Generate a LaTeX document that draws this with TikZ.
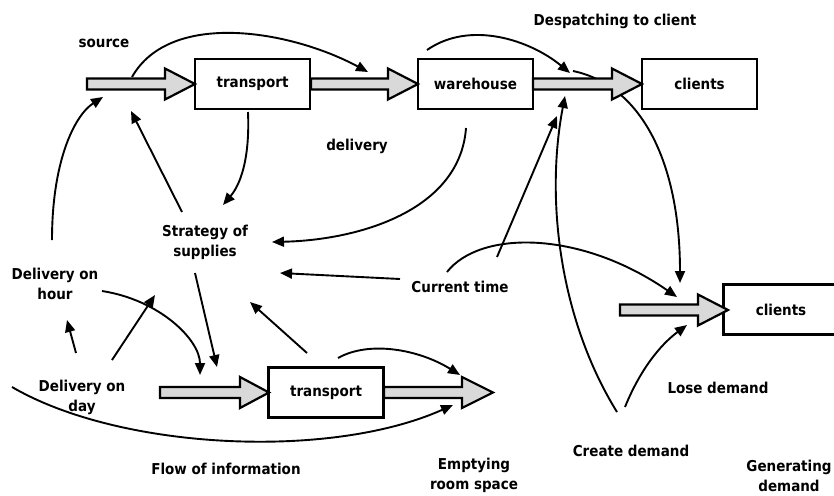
\documentclass[tikz,border=0pt]{standalone}
\usepackage{fontspec}
\setmainfont{DejaVu Sans Condensed}
\usetikzlibrary{arrows.meta}

% thick grey flow pipe: x-start, x-tip, y-centre, x where the head begins
\newcommand\flowpipe[4]{%
  \draw[pipe] (#1,#3-5.5) -- (#4,#3-5.5) -- (#4,#3-15.5) -- (#2,#3)
    -- (#4,#3+15.5) -- (#4,#3+5.5) -- (#1,#3+5.5) -- cycle;}

\begin{document}
\begin{tikzpicture}[x=1pt,y=-1pt,
  box/.style={draw, line width=2.2pt, fill=white, minimum width=115pt,
    minimum height=50pt, inner sep=0pt, font=\fontsize{15}{17}\bfseries},
  lbl/.style={align=center, inner sep=0pt, font=\fontsize{15}{20}\bfseries},
  pipe/.style={draw, line width=2.2pt, fill=pipegrey, line join=miter},
  conn/.style={line width=1.9pt, -{Triangle[length=12pt,width=10pt]}}]
\definecolor{pipegrey}{HTML}{D9D9D9}
\useasboundingbox (0,0) rectangle (834,495);

% stocks
\node[box] (tr1) at (252.5,84) {transport};
\node[box] (wh)  at (475.5,84) {warehouse};
\node[box] (cl1) at (699.5,84) {clients};
\node[box] (cl2) at (781,309.5) {clients};
\node[box] (tr2) at (326,392.5) {transport};

% labels
\node[lbl] (source) at (104,43) {source};
\node[lbl] (desp) at (615,21) {Despatching to client};
\node[lbl] (deliv) at (357,146) {delivery};
\node[lbl] (strat) at (205,242) {Strategy of\\supplies};
\node[lbl] (cur) at (460,287) {Current time};
\node[lbl] (hour) at (55,284) {Delivery on\\hour};
\node[lbl] (day) at (82,397) {Delivery on\\day};
\node[lbl] (flow) at (226,469) {Flow of information};
\node[lbl] (empty) at (474,475) {Emptying\\room space};
\node[lbl] (create) at (631,451) {Create demand};
\node[lbl] (lose) at (718,388) {Lose demand};
\node[lbl] (gen) at (789,476) {Generating\\demand};

% connector ends
\coordinate (pS) at (132,77);   \coordinate (pT1) at (368,72);
\coordinate (pW) at (427,50);   \coordinate (pT2) at (570,73);
\coordinate (pD) at (573,71);   \coordinate (pL) at (680,283);
\coordinate (pTr) at (248,112); \coordinate (pSa) at (223,205);
\coordinate (pSb) at (182,212); \coordinate (pSrc) at (131,111);
\coordinate (pHa) at (52,240);  \coordinate (pSrc2) at (103,97);
\coordinate (pWb) at (466,128); \coordinate (pSc) at (272,242);
\coordinate (pCa) at (400,279); \coordinate (pSd) at (280,273);
\coordinate (pCb) at (497,257); \coordinate (pDa) at (557,116);
\coordinate (pCc) at (447,272); \coordinate (pLa) at (677,297);
\coordinate (pCr) at (617,412); \coordinate (pDb) at (565,96);
\coordinate (pCr2) at (625,407);\coordinate (pLb) at (687,325);
\coordinate (pDy) at (76,353);  \coordinate (pHb) at (67,320);
\coordinate (pDy2) at (112,360);\coordinate (pSe) at (155,295);
\coordinate (pHc) at (102,291); \coordinate (pT2a) at (200,375);
\coordinate (pSf) at (195,273); \coordinate (pT2b) at (217,367);
\coordinate (pTr2) at (307,353);\coordinate (pSg) at (250,302);
\coordinate (pTr3) at (338,358);\coordinate (pEa) at (460,375);
\coordinate (pF) at (12,387);   \coordinate (pEb) at (453,405);

% the despatch-to-lost-demand link runs under the pipe
\draw[conn] (pD) .. controls (640,85) and (680,160) .. (pL);

% flow pipes
\flowpipe{87}{195}{84}{165}
\flowpipe{311}{418}{84}{388}
\flowpipe{533}{642}{84}{612}
\flowpipe{620}{728}{310}{698}
\flowpipe{160}{269}{392.5}{240}
\flowpipe{384}{493}{392.5}{462}

% information links
\draw[conn] (pS) .. controls (170,10) and (290,30) .. (pT1);
\draw[conn] (pW) .. controls (470,20) and (530,40) .. (pT2);
\draw[conn] (pTr) .. controls (250,160) and (240,185) .. (pSa);
\draw[conn] (pSb) -- (pSrc);
\draw[conn] (pHa) .. controls (52,160) and (75,115) .. (pSrc2);
\draw[conn] (pWb) .. controls (460,210) and (360,240) .. (pSc);
\draw[conn] (pCa) -- (pSd);
\draw[conn] (pCb) -- (pDa);
\draw[conn] (pCc) .. controls (480,230) and (580,230) .. (pLa);
\draw[conn] (pCr) .. controls (560,320) and (545,200) .. (pDb);
\draw[conn] (pCr2) .. controls (640,370) and (660,345) .. (pLb);
\draw[conn] (pDy) -- (pHb);
\draw[conn] (pDy2) -- (pSe);
\draw[conn] (pHc) .. controls (160,300) and (200,340) .. (pT2a);
\draw[conn] (pSf) -- (pT2b);
\draw[conn] (pTr2) -- (pSg);
\draw[conn] (pTr3) .. controls (370,340) and (420,350) .. (pEa);
\draw[conn] (pF) .. controls (120,450) and (330,460) .. (pEb);
\end{tikzpicture}
\end{document}
